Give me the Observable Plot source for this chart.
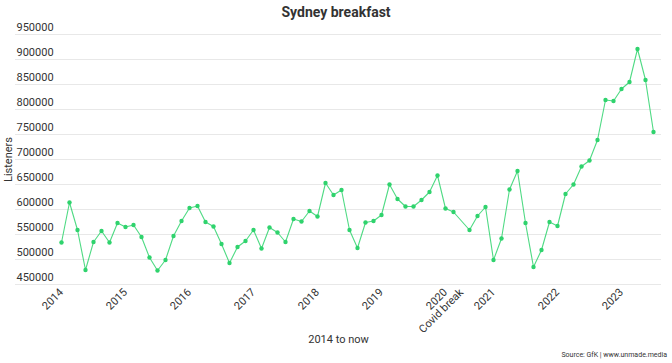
<!DOCTYPE html>
<html>
<head>
<meta charset="utf-8">
<script src="https://cdn.jsdelivr.net/npm/d3@7"></script>
<script src="https://cdn.jsdelivr.net/npm/@observablehq/plot@0.6"></script>
<style>
  html, body { margin: 0; padding: 0; background: #fff; }
  body { width: 672px; height: 363px; overflow: hidden; font-family: Roboto, "Noto Sans", sans-serif; }
  #title { height: 18px; line-height: 24px; text-align: center; font-size: 14px; font-weight: 700; color: #333; }
  #source { text-align: right; font-size: 7px; color: #333; padding-right: 5px; margin-top: 2px; }
  svg { display: block; }
</style>
</head>
<body>
<div id="title">Sydney breakfast</div>
<div id="chart"></div>
<div id="source">Source: GfK | www.unmade.media</div>
<script>
// Survey periods (8 GfK surveys per year; one gap for the 2020 Covid break)
const periods = [
  "2014-1","2014-2","2014-3","2014-4","2014-5","2014-6","2014-7","2014-8",
  "2015-1","2015-2","2015-3","2015-4","2015-5","2015-6","2015-7","2015-8",
  "2016-1","2016-2","2016-3","2016-4","2016-5","2016-6","2016-7","2016-8",
  "2017-1","2017-2","2017-3","2017-4","2017-5","2017-6","2017-7","2017-8",
  "2018-1","2018-2","2018-3","2018-4","2018-5","2018-6","2018-7","2018-8",
  "2019-1","2019-2","2019-3","2019-4","2019-5","2019-6","2019-7","2019-8",
  "2020-1","2020-2","Covid break","2020-3","2020-4","2020-5",
  "2021-1","2021-2","2021-3","2021-4","2021-5","2021-6","2021-7","2021-8",
  "2022-1","2022-2","2022-3","2022-4","2022-5","2022-6","2022-7","2022-8",
  "2023-1","2023-2","2023-3","2023-4","2023-5"
];
const listeners = [
  534000, 614000, 559000, 479000, 535000, 557000, 534000, 573000,
  565000, 569000, 545000, 504000, 478000, 499000, 547000, 577000,
  603000, 607000, 575000, 566000, 531000, 493000, 525000, 537000,
  559000, 522000, 564000, 554000, 535000, 581000, 576000, 597000,
  586000, 653000, 629000, 639000, 559000, 523000, 574000, 577000,
  589000, 650000, 621000, 606000, 606000, 619000, 635000, 668000,
  602000, 595000, null, 559000, 587000, 605000,
  499000, 542000, 640000, 677000, 573000, 485000, 519000, 575000,
  567000, 631000, 650000, 686000, 698000, 739000, 819000, 817000,
  841000, 855000, 921000, 859000, 755000
];
const tickPeriods = ["2014-1","2015-1","2016-1","2017-1","2018-1","2019-1","2020-1","Covid break","2021-1","2022-1","2023-1"];
const tickLabels  = ["2014","2015","2016","2017","2018","2019","2020","Covid break","2021","2022","2023"];
const yTicks = [450000, 500000, 550000, 600000, 650000, 700000, 750000, 800000, 850000, 900000, 950000];

const data = periods.map((p, i) => ({period: p, value: listeners[i]}));
const valid = data.filter(d => d.value != null);
const labelOf = new Map(tickPeriods.map((p, i) => [p, tickLabels[i]]));

const green = "#2fd36d";
const chart = Plot.plot({
  width: 672,
  height: 331,
  marginTop: 16,
  marginBottom: 65,
  marginLeft: 15,
  marginRight: 11,
  style: {fontFamily: "Roboto, sans-serif", fontSize: "11px", color: "#333", background: "#fff"},
  x: {type: "point", domain: periods, range: [57, 656.7], padding: 0},
  y: {domain: [450000, 950000]},
  marks: [
    Plot.ruleY(yTicks, {stroke: "#e8e8e8", strokeWidth: 1}),
    Plot.axisY({ticks: yTicks, tickSize: 0, tickPadding: 0, textAnchor: "start", dx: 1, dy: -7,
      tickFormat: d => String(d), fill: "#333", label: "Listeners", labelAnchor: "center", labelOffset: 11, labelArrow: "none", fontSize: 11}),
    Plot.axisX({ticks: tickPeriods, tickSize: 0, tickPadding: 6, tickRotate: -45,
      tickFormat: d => labelOf.get(d), fill: "#333", label: "2014 to now", labelAnchor: "center", labelOffset: 58, labelArrow: "none", fontSize: 11}),
    Plot.line(valid, {x: "period", y: "value", stroke: green, strokeWidth: 1.1, strokeOpacity: 0.85}),
    Plot.dot(valid, {x: "period", y: "value", r: 2.2, fill: green})
  ]
});
document.getElementById("chart").appendChild(chart);
</script>
</body>
</html>
